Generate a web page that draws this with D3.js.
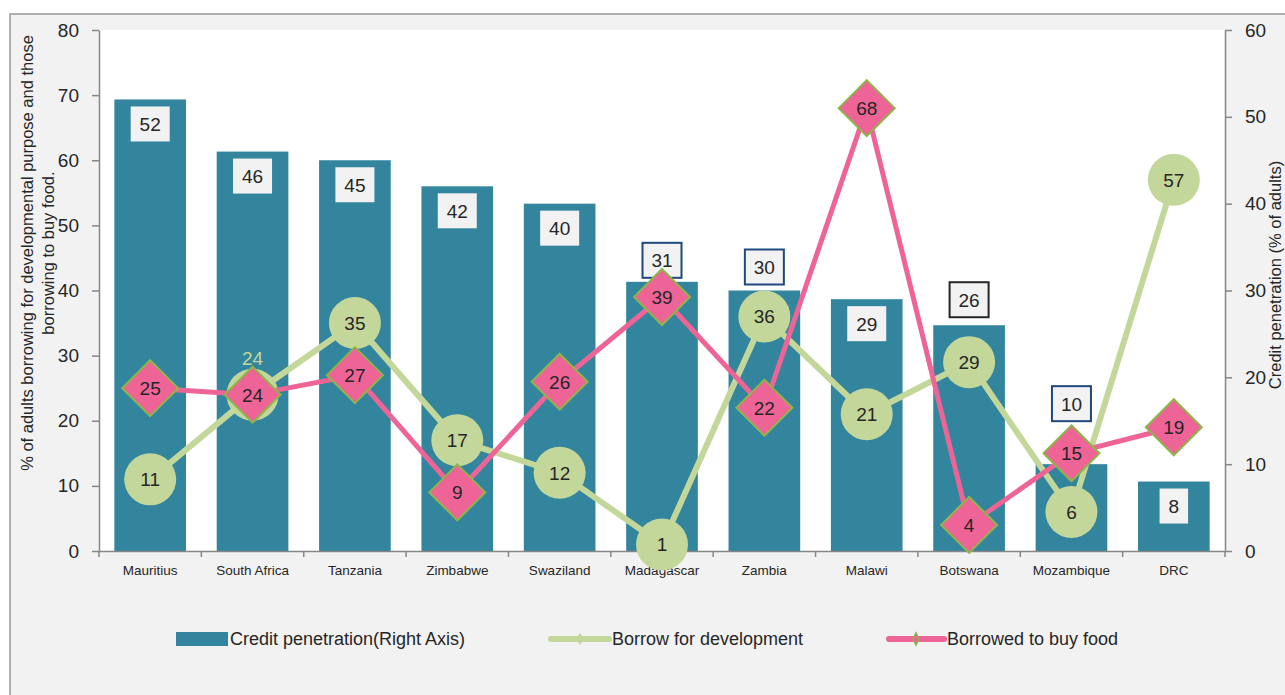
<!DOCTYPE html>
<html>
<head>
<meta charset="utf-8">
<script src="https://cdn.jsdelivr.net/npm/d3@7"></script>
<style>
  body { margin: 0; background: #ffffff; }
  #vis { width: 1285px; height: 695px; }
  text { font-family: "Liberation Sans", Arial, sans-serif; fill: #262626; }
  .axis path, .axis line { stroke: #868686; stroke-width: 1.5; }
</style>
</head>
<body>
<div id="vis"></div>
<script>
var countries = ['Mauritius', 'South Africa', 'Tanzania', 'Zimbabwe', 'Swaziland', 'Madagascar', 'Zambia', 'Malawi', 'Botswana', 'Mozambique', 'DRC'];
var creditPenetration = [52, 46, 45, 42, 40, 31, 30, 29, 26, 10, 8];
var borrowDevelopment = [11, 24, 35, 17, 12, 1, 36, 21, 29, 6, 57];
var borrowFood = [25, 24, 27, 9, 26, 39, 22, 68, 4, 15, 19];
var leftTicks = [0, 10, 20, 30, 40, 50, 60, 70, 80];
var rightTicks = [0, 10, 20, 30, 40, 50, 60];

// bar labels that sit above the bar instead of inside it
var barLabelAbove = {
    'Madagascar': { lift: 4, border: '#1f497d' },
    'Zambia': { lift: 6, border: '#1f497d' },
    'Botswana': { lift: 8, border: '#262626' },
    'Mozambique': { lift: 43, border: '#1f497d' }
};

var barColour = '#33859e';
var devColour = '#c4d79b';
var foodColour = '#ee6496';
var foodEdge = '#8db54a';

var width = 1285;
var height = 695;
var plot = { left: 99, right: 1225, top: 30, bottom: 551 };

var svg = d3.select('#vis')
    .append('svg')
    .attr('width', width)
    .attr('height', height);

// outer frame and plot background
svg.append('rect')
    .attr('x', 10).attr('y', 14)
    .attr('width', width).attr('height', height)
    .attr('fill', '#f2f2f2')
    .attr('stroke', '#969696')
    .attr('stroke-width', 1.5);

svg.append('rect')
    .attr('x', plot.left).attr('y', plot.top)
    .attr('width', plot.right - plot.left)
    .attr('height', plot.bottom - plot.top)
    .attr('fill', '#ffffff');

var x_scale = d3.scaleBand()
    .domain(countries)
    .range([plot.left, plot.right])
    .paddingInner(0.3)
    .paddingOuter(0.15);

var y_left = d3.scaleLinear()
    .domain([0, 80])
    .range([plot.bottom, plot.top]);

var y_right = d3.scaleLinear()
    .domain([0, 60])
    .range([plot.bottom, plot.top]);

var cx = function(i) { return x_scale(countries[i]) + x_scale.bandwidth() / 2; };

// bars
svg.selectAll('.bar')
    .data(creditPenetration)
    .enter()
    .append('rect')
    .attr('class', 'bar')
    .attr('x', function(d, i) { return x_scale(countries[i]); })
    .attr('width', x_scale.bandwidth())
    .attr('y', function(d) { return y_right(d); })
    .attr('height', function(d) { return plot.bottom - y_right(d); })
    .attr('fill', barColour);

// axes
svg.append('g')
    .attr('class', 'axis')
    .attr('transform', 'translate(' + plot.left + ',0)')
    .call(d3.axisLeft(y_left).tickValues(leftTicks).tickSize(7).tickSizeOuter(0).tickPadding(13))
    .selectAll('text')
    .style('font-size', '19px');

svg.append('g')
    .attr('class', 'axis')
    .attr('transform', 'translate(' + plot.right + ',0)')
    .call(d3.axisRight(y_right).tickValues(rightTicks).tickSize(7).tickSizeOuter(0).tickPadding(13))
    .selectAll('text')
    .style('font-size', '19px');

var x_axis = svg.append('g')
    .attr('class', 'axis')
    .attr('transform', 'translate(0,' + plot.bottom + ')')
    .call(d3.axisBottom(x_scale).tickSize(0).tickSizeOuter(0).tickPadding(14));
x_axis.selectAll('text').style('font-size', '13.5px');

var step = x_scale.step();
x_axis.selectAll('.edge')
    .data(d3.range(countries.length + 1))
    .enter()
    .append('line')
    .attr('class', 'edge')
    .attr('x1', function(i) { return plot.left + i * step; })
    .attr('x2', function(i) { return plot.left + i * step; })
    .attr('y1', 0)
    .attr('y2', 6);

// axis titles
var leftTitle = svg.append('text')
    .attr('transform', 'translate(33,253) rotate(-90)')
    .attr('text-anchor', 'middle')
    .style('font-size', '16.5px');
leftTitle.append('tspan').attr('x', 0).attr('dy', 0)
    .text('% of adults borrowing for developmental purpose and those');
leftTitle.append('tspan').attr('x', 0).attr('dy', '1.25em')
    .text('borrowing to buy food.');

svg.append('text')
    .attr('transform', 'translate(1281,275) rotate(-90)')
    .attr('text-anchor', 'middle')
    .style('font-size', '16.5px')
    .text('Credit penetration (% of adults)');

// bar value labels
var barLabels = svg.selectAll('.barlabel')
    .data(creditPenetration)
    .enter()
    .append('g')
    .attr('class', 'barlabel');

barLabels.each(function(d, i) {
    var g = d3.select(this);
    var opt = barLabelAbove[countries[i]];
    var txt = String(d);
    var bw = 18 + txt.length * 10.5;
    var bh = 35;
    var top = opt ? y_right(d) - opt.lift - bh : y_right(d) + 7;
    g.append('rect')
        .attr('x', cx(i) - bw / 2)
        .attr('y', top)
        .attr('width', bw)
        .attr('height', bh)
        .attr('fill', '#f2f2f2')
        .attr('stroke', opt ? opt.border : 'none')
        .attr('stroke-width', 2);
    g.append('text')
        .attr('x', cx(i))
        .attr('y', top + bh / 2)
        .attr('dy', '0.36em')
        .attr('text-anchor', 'middle')
        .style('font-size', '19px')
        .text(txt);
});

// development series
var seriesLine = d3.line()
    .x(function(d, i) { return cx(i); })
    .y(function(d) { return y_left(d); });

svg.append('path')
    .datum(borrowDevelopment)
    .attr('d', seriesLine)
    .attr('fill', 'none')
    .attr('stroke', devColour)
    .attr('stroke-width', 6);

svg.selectAll('.dev')
    .data(borrowDevelopment)
    .enter()
    .append('circle')
    .attr('class', 'dev')
    .attr('cx', function(d, i) { return cx(i); })
    .attr('cy', function(d) { return y_left(d); })
    .attr('r', 26)
    .attr('fill', devColour);

svg.selectAll('.devlabel')
    .data(borrowDevelopment)
    .enter()
    .append('text')
    .attr('class', 'devlabel')
    .attr('x', function(d, i) { return cx(i); })
    .attr('y', function(d, i) { return countries[i] === 'South Africa' ? y_left(d) - 37 : y_left(d); })
    .attr('dy', '0.36em')
    .attr('text-anchor', 'middle')
    .style('font-size', '19px')
    .style('fill', function(d, i) { return countries[i] === 'South Africa' ? devColour : '#262626'; })
    .text(function(d) { return d; });

// food series
svg.append('path')
    .datum(borrowFood)
    .attr('d', seriesLine)
    .attr('fill', 'none')
    .attr('stroke', foodColour)
    .attr('stroke-width', 5);

svg.selectAll('.food')
    .data(borrowFood)
    .enter()
    .append('path')
    .attr('class', 'food')
    .attr('transform', function(d, i) { return 'translate(' + cx(i) + ',' + y_left(d) + ')'; })
    .attr('d', 'M0,-28L28,0L0,28L-28,0Z')
    .attr('fill', foodColour)
    .attr('stroke', foodEdge)
    .attr('stroke-width', 2);

svg.selectAll('.foodlabel')
    .data(borrowFood)
    .enter()
    .append('text')
    .attr('class', 'foodlabel')
    .attr('x', function(d, i) { return cx(i); })
    .attr('y', function(d) { return y_left(d); })
    .attr('dy', '0.36em')
    .attr('text-anchor', 'middle')
    .style('font-size', '19px')
    .text(function(d) { return d; });

// legend
var legend = svg.append('g')
    .attr('transform', 'translate(0,639)');

legend.append('rect')
    .attr('x', 176).attr('y', -7)
    .attr('width', 52).attr('height', 14)
    .attr('fill', barColour);
legend.append('text')
    .attr('x', 230).attr('dy', '0.36em')
    .style('font-size', '18px')
    .text('Credit penetration(Right Axis)');

legend.append('line')
    .attr('x1', 551).attr('x2', 609)
    .attr('stroke', devColour).attr('stroke-width', 6).attr('stroke-linecap', 'round');
legend.append('path')
    .attr('transform', 'translate(580,0)')
    .attr('d', 'M0,-6L4,0L0,6L-4,0Z')
    .attr('fill', devColour);
legend.append('text')
    .attr('x', 612).attr('dy', '0.36em')
    .style('font-size', '18px')
    .text('Borrow for development');

legend.append('line')
    .attr('x1', 889).attr('x2', 944)
    .attr('stroke', foodColour).attr('stroke-width', 6).attr('stroke-linecap', 'round');
legend.append('path')
    .attr('transform', 'translate(916,0)')
    .attr('d', 'M0,-6L3,0L0,6L-3,0Z')
    .attr('fill', foodColour)
    .attr('stroke', foodEdge)
    .attr('stroke-width', 1.5);
legend.append('text')
    .attr('x', 947).attr('dy', '0.36em')
    .style('font-size', '18px')
    .text('Borrowed to buy food');
</script>
</body>
</html>
